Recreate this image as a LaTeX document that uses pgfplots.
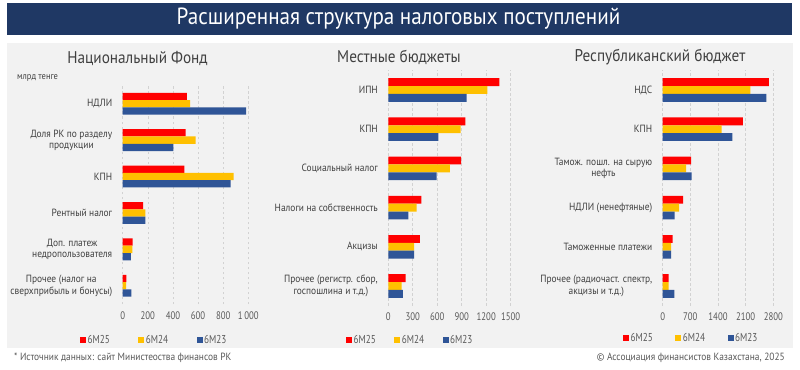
\documentclass[border=0pt]{standalone}
\usepackage{pgfplots}
\pgfplotsset{compat=1.18}
\usepackage{fontspec}
\setmainfont{PT Sans}[FakeStretch=0.9]
\newfontfamily\narrow{PT Sans}[FakeStretch=0.8]
\definecolor{cred}{HTML}{FF0000}
\definecolor{cyel}{HTML}{FFC000}
\definecolor{cblu}{HTML}{2F5597}
\definecolor{navy}{HTML}{1F3864}
\definecolor{bg}{HTML}{F2F2F2}
\definecolor{txt}{HTML}{404040}
\definecolor{tickc}{HTML}{595959}
\pgfplotsset{
  panel/.style={
    xbar, scale only axis,
    ymin=-0.5, ymax=5.5, xmin=0,
    bar width=0.2,
    axis line style={draw=none},
    major tick length=0pt,
    xmajorgrids,
    grid style={draw=gray!35, dash pattern=on 2.5bp off 2.5bp, line width=0.6bp},
    ytick={0,...,5},
    yticklabel style={align=center, font=\fontsize{10.5}{11.5}\selectfont, text=txt, xshift=-7bp},
    xticklabel style={font=\narrow\fontsize{11}{12}\selectfont, text=tickc, yshift=-4bp},
    /pgf/number format/assume math mode=true,
    legend columns=3,
    legend style={draw=none, fill=none, anchor=center, font=\narrow\fontsize{11.5}{12}\selectfont, text=tickc,
      nodes={inner sep=1.5bp}},
    legend image code/.code={\fill[##1] (0bp,-3bp) rectangle (6bp,3bp);},
  },
}
\begin{document}
\begin{tikzpicture}[x=1bp,y=1bp]
\useasboundingbox (0,0) rectangle (800,369);
\fill[white] (0,0) rectangle (800,369);
\fill[bg] (7,21) rectangle (793,326);
\fill[navy] (7,334) rectangle (792,366);
\coordinate (p1) at (122.7,65);
\coordinate (p2) at (388.3,63.4);
\coordinate (p3) at (662.7,63.4);
\node[text=white, font=\fontsize{23.5}{25}\selectfont] at (398.5,350) {Расширенная структура налоговых поступлений};
\node[text=txt, font=\fontsize{17}{19}\selectfont] at (137.5,311) {Национальный Фонд};
\node[text=txt, font=\fontsize{17}{19}\selectfont] at (399,312) {Местные бюджеты};
\node[text=txt, font=\fontsize{17}{19}\selectfont] at (660,312) {Республиканский бюджет};
\node[text=txt, font=\fontsize{9.5}{11}\selectfont, anchor=west, inner sep=0pt] at (17,291) {млрд тенге};
\node[text=tickc, font=\fontsize{10.5}{11}\selectfont, anchor=west, inner sep=0pt] at (14,11) {* Источник данных: сайт Министеоства финансов РК};
\node[text=tickc, font=\fontsize{10.5}{11}\selectfont, anchor=east, inner sep=0pt] at (785,11) {© Ассоциация финансистов Казахстана, 2025};

% Panel 1
\begin{axis}[panel, at={(p1)}, anchor=south west, width=125.6bp, height=218.5bp,
  xmax=1000, xtick={0,200,400,600,800,1000}, xticklabels={0,200,400,600,800,1\,000},
  yticklabels={{Прочее (налог на\\сверхприбыль и бонусы)},{Доп. платеж\\недропользователя},{Рентный налог},{КПН},{Доля РК по разделу\\продукции},{НДЛИ}},
  legend style={at={(0.249,-0.165)}, /tikz/every even column/.append style={column sep=27bp}}]
\addplot[draw=none, fill=cred, bar shift=0.2] coordinates {(30,0) (80,1) (163,2) (491,3) (500,4) (510,5)};
\addplot[draw=none, fill=cyel, bar shift=0] coordinates {(28,0) (78,1) (180,2) (884,3) (580,4) (536,5)};
\addplot[draw=none, fill=cblu, bar shift=-0.2] coordinates {(70,0) (66,1) (180,2) (860,3) (403,4) (982,5)};
\legend{6M25,6M24,6M23}
\end{axis}

% Panel 2
\begin{axis}[panel, at={(p2)}, anchor=south west, width=122.4bp, height=235.2bp,
  xmax=1500, xtick={0,300,600,900,1200,1500}, xticklabels={0,300,600,900,1200,1500},
  yticklabels={{Прочее (регистр. сбор,\\госпошлина и т.д.)},{Акцизы},{Налоги на собственность},{Социальный налог},{КПН},{ИПН}},
  legend style={at={(0.177,-0.146)}, /tikz/every even column/.append style={column sep=17bp}}]
\addplot[draw=none, fill=cred, bar shift=0.2] coordinates {(212,0) (388,1) (405,2) (891,3) (944,4) (1360,5)};
\addplot[draw=none, fill=cyel, bar shift=0] coordinates {(163,0) (315,1) (347,2) (756,3) (887,4) (1213,5)};
\addplot[draw=none, fill=cblu, bar shift=-0.2] coordinates {(180,0) (315,1) (245,2) (593,3) (613,4) (960,5)};
\legend{6M25,6M24,6M23}
\end{axis}

% Panel 3
\begin{axis}[panel, at={(p3)}, anchor=south west, width=110.6bp, height=235.2bp,
  xmax=2800, xtick={0,700,1400,2100,2800}, xticklabels={0,700,1400,2100,2800},
  yticklabels={{Прочее (радиочаст. спектр,\\акцизы и т.д.)},{Таможенные платежи},{НДЛИ (ненефтяные)},{Тамож. пошл. на сырую\\нефть},{КПН},{НДС}},
  legend style={at={(0.256,-0.138)}, /tikz/every even column/.append style={column sep=21bp}}]
\addplot[draw=none, fill=cred, bar shift=0.2] coordinates {(152,0) (253,1) (514,2) (717,3) (2032,4) (2690,5)};
\addplot[draw=none, fill=cyel, bar shift=0] coordinates {(152,0) (211,1) (413,2) (590,3) (1492,4) (2218,5)};
\addplot[draw=none, fill=cblu, bar shift=-0.2] coordinates {(295,0) (211,1) (304,2) (734,3) (1762,4) (2622,5)};
\legend{6M25,6M24,6M23}
\end{axis}
\end{tikzpicture}
\end{document}
